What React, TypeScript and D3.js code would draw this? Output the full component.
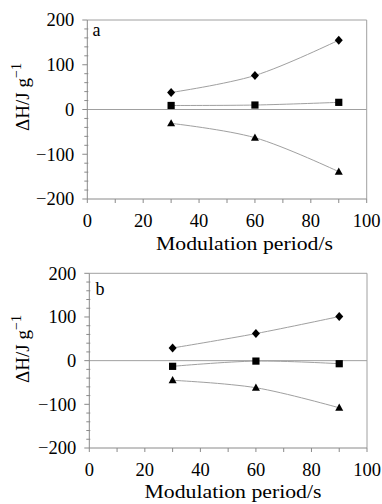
import * as d3 from 'd3'

const periods = [30, 60, 90]

// panel a
const aDiamond = [38, 76, 155]
const aSquare = [9, 10, 16]
const aTriangle = [-31, -63, -139]

// panel b
const bDiamond = [29, 62, 101]
const bSquare = [-13, -1, -7]
const bTriangle = [-45, -62, -108]

const xTicks = [0, 20, 40, 60, 80, 100]
const yTicks = [-200, -100, 0, 100, 200]

const FONT = '"Liberation Serif", "Times New Roman", serif'
const AXIS = '#8a8a8a'
const LINE = '#a0a0a0'

type Layout = {
  x0: number
  x1: number
  yTop: number
  yBottom: number
  label: string
  labelX: number
  labelY: number
  titleX: number
  titleY: number
  yTitleY: number
}

function Marker({ kind, x, y }: { kind: string; x: number; y: number }) {
  if (kind === 'diamond') {
    return <path d={`M${x},${y - 4.5}L${x + 4},${y}L${x},${y + 4.5}L${x - 4},${y}Z`} fill="#000" />
  }
  if (kind === 'square') {
    return <rect x={x - 3.6} y={y - 3.6} width={7.2} height={7.2} fill="#000" />
  }
  return <path d={`M${x},${y - 4.2}L${x + 4},${y + 3}L${x - 4},${y + 3}Z`} fill="#000" />
}

function Panel({ series, L }: { series: { kind: string; values: number[] }[]; L: Layout }) {
  const x = d3.scaleLinear().domain([0, 100]).range([L.x0, L.x1])
  const y = d3.scaleLinear().domain([-200, 200]).range([L.yBottom, L.yTop])
  const line = d3
    .line<number>()
    .x((_, i) => x(periods[i]))
    .y((d) => y(d))
    .curve(d3.curveCatmullRom)

  const minorY = d3.range(-200, 201, 20).filter((v) => v % 100 !== 0)
  const minorX = d3.range(10, 100, 20)

  return (
    <g>
      {/* frame */}
      <line x1={L.x0} x2={L.x1} y1={L.yTop} y2={L.yTop} stroke={LINE} />
      <line x1={L.x1} x2={L.x1} y1={L.yTop} y2={L.yBottom} stroke={LINE} />
      <line x1={L.x0} x2={L.x1} y1={y(0)} y2={y(0)} stroke={LINE} />
      <line x1={L.x0} x2={L.x0} y1={L.yTop} y2={L.yBottom} stroke={AXIS} />
      <line x1={L.x0} x2={L.x1} y1={L.yBottom} y2={L.yBottom} stroke={AXIS} />

      {yTicks.map((t) => (
        <g key={'y' + t}>
          <line x1={L.x0 - 5} x2={L.x0} y1={y(t)} y2={y(t)} stroke={AXIS} />
          <text x={L.x0 - 13} y={y(t)} dy="0.35em" textAnchor="end" fontSize={18.5} fontFamily={FONT}>
            {t < 0 ? '\u2212' + Math.abs(t) : t}
          </text>
        </g>
      ))}
      {minorY.map((t) => (
        <line key={'my' + t} x1={L.x0 - 3} x2={L.x0 + 1} y1={y(t)} y2={y(t)} stroke={AXIS} />
      ))}
      {xTicks.map((t) => (
        <g key={'x' + t}>
          <line x1={x(t)} x2={x(t)} y1={L.yBottom} y2={L.yBottom + 4} stroke={AXIS} />
          <text x={x(t)} y={L.yBottom + 28} textAnchor="middle" fontSize={18.5} fontFamily={FONT}>
            {t}
          </text>
        </g>
      ))}
      {minorX.map((t) => (
        <line key={'mx' + t} x1={x(t)} x2={x(t)} y1={L.yBottom} y2={L.yBottom + 4} stroke={AXIS} />
      ))}

      {series.map((s) => (
        <path key={'l' + s.kind} d={line(s.values) || ''} fill="none" stroke={LINE} strokeWidth={1} />
      ))}
      {series.map((s) =>
        s.values.map((v, i) => <Marker key={s.kind + i} kind={s.kind} x={x(periods[i])} y={y(v)} />)
      )}

      <text x={L.labelX} y={L.labelY} fontSize={18} fontFamily={FONT}>
        {L.label}
      </text>
      <text
        x={L.titleX}
        y={L.titleY}
        textAnchor="middle"
        fontSize={19}
        fontFamily={FONT}
        textLength={177}
        lengthAdjust="spacingAndGlyphs"
      >
        Modulation period/s
      </text>
      <text
        transform={`translate(29,${L.yTitleY}) rotate(-90)`}
        textAnchor="middle"
        fontSize={19}
        fontFamily={FONT}
      >
        ΔH/J g
        <tspan dy="-0.55em" fontSize={14}>
          −1
        </tspan>
      </text>
    </g>
  )
}

export default function App() {
  const A: Layout = {
    x0: 87.3,
    x1: 366.7,
    yTop: 20,
    yBottom: 199,
    label: 'a',
    labelX: 92.5,
    labelY: 36,
    titleX: 244.5,
    titleY: 250,
    yTitleY: 97,
  }
  const B: Layout = {
    x0: 89.3,
    x1: 367,
    yTop: 273.3,
    yBottom: 448,
    label: 'b',
    labelX: 95.5,
    labelY: 295,
    titleX: 233,
    titleY: 498,
    yTitleY: 349,
  }
  return (
    <svg
      width={382}
      height={504}
      style={{ position: 'absolute', left: 0, top: 0, background: '#fff' }}
    >
      <Panel
        L={A}
        series={[
          { kind: 'diamond', values: aDiamond },
          { kind: 'square', values: aSquare },
          { kind: 'triangle', values: aTriangle },
        ]}
      />
      <Panel
        L={B}
        series={[
          { kind: 'diamond', values: bDiamond },
          { kind: 'square', values: bSquare },
          { kind: 'triangle', values: bTriangle },
        ]}
      />
    </svg>
  )
}
